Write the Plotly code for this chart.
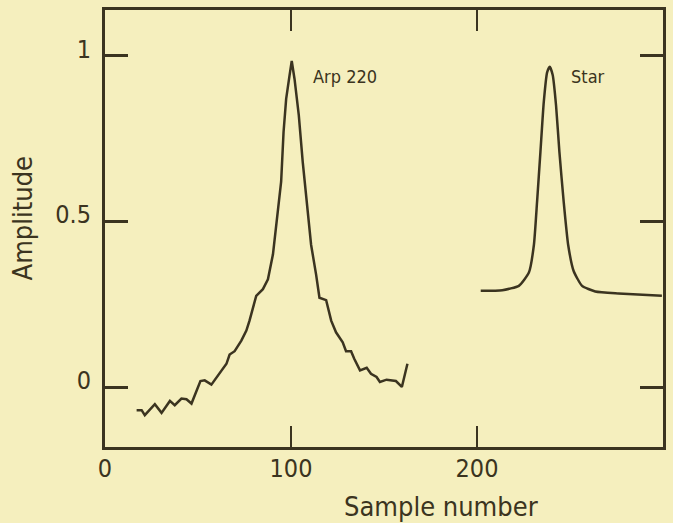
import plotly.graph_objects as go

# Arp 220 profile (sample number, amplitude)
arp_x = [17.0, 19.7, 21.4, 26.8, 30.4, 34.9, 37.5, 41.1, 43.8, 46.5, 51.3, 53.6, 57.2,
         60.8, 65.3, 67.0, 69.7, 73.3, 76.0, 77.7, 81.3, 84.9, 87.6, 90.3, 92.9, 94.7,
         96.0, 97.4, 99.2, 100.4, 101.9, 104.2, 106.3, 109.0, 110.8, 113.5, 115.3, 118.9,
         121.6, 124.2, 127.8, 129.6, 132.3, 134.0, 137.1, 140.7, 143.0, 146.0, 147.8,
         151.4, 156.4, 159.6, 162.6]
arp_y = [-0.069, -0.069, -0.084, -0.051, -0.077, -0.041, -0.054, -0.034, -0.036, -0.049,
         0.019, 0.021, 0.008, 0.036, 0.071, 0.099, 0.109, 0.141, 0.171, 0.201, 0.276,
         0.296, 0.326, 0.401, 0.52, 0.62, 0.77, 0.87, 0.94, 0.984, 0.93, 0.82, 0.68,
         0.54, 0.43, 0.34, 0.27, 0.263, 0.201, 0.166, 0.136, 0.109, 0.109, 0.086, 0.051,
         0.059, 0.041, 0.031, 0.016, 0.023, 0.019, 0.001, 0.071]

# Star profile
star_x = [202.0, 213.6, 222.5, 227.9, 230.6, 232.3, 234.1, 235.9, 237.7, 239.1, 240.7,
          242.5, 244.3, 246.6, 249.0, 252.0, 256.5, 263.6, 276.1, 299.4]
star_y = [0.291, 0.293, 0.306, 0.346, 0.43, 0.56, 0.71, 0.86, 0.95, 0.967, 0.942, 0.85,
          0.71, 0.56, 0.43, 0.35, 0.306, 0.289, 0.283, 0.276]

x_ticks = [0, 100, 200]
x_tick_labels = ["0", "100", "200"]
y_ticks = [0, 0.5, 1]
y_tick_labels = ["0", "0.5", "1"]

labels = ["Arp 220", "Star"]
label_x = [111, 249.3]
label_y = [0.937, 0.937]

INK = "#3b3420"
BG = "#f5efbe"
FONT = "DejaVu Sans Condensed"

fig = go.Figure()
fig.add_trace(go.Scatter(x=arp_x, y=arp_y, mode="lines",
                         line=dict(color=INK, width=2.5), showlegend=False))
fig.add_trace(go.Scatter(x=star_x, y=star_y, mode="lines",
                         line=dict(color=INK, width=2.5, shape="spline", smoothing=0.5),
                         showlegend=False))

for t, lx, ly in zip(labels, label_x, label_y):
    fig.add_annotation(x=lx, y=ly, text=t, showarrow=False, xanchor="left",
                       yanchor="middle", font=dict(family=FONT, size=18, color=INK))

fig.add_annotation(xref="paper", yref="paper", x=0.602, y=-0.1367, text="Sample number",
                   showarrow=False, xanchor="center", yanchor="middle",
                   font=dict(family=FONT, size=27, color=INK))
fig.add_annotation(xref="paper", yref="paper", x=-0.148, y=0.524, text="Amplitude",
                   showarrow=False, xanchor="center", yanchor="middle", textangle=-90,
                   font=dict(family=FONT, size=27, color=INK))

fig.update_layout(
    width=673, height=523,
    margin=dict(l=105, r=7, t=8, b=76),
    paper_bgcolor=BG, plot_bgcolor=BG,
    font=dict(family=FONT, size=25, color=INK),
)
fig.update_xaxes(range=[0, 300], tickvals=x_ticks, ticktext=x_tick_labels,
                 ticks="inside", ticklen=21, tickwidth=2, tickcolor=INK,
                 showline=True, linewidth=3, linecolor=INK, mirror="ticks",
                 showgrid=False, zeroline=False, ticklabelstandoff=-3)
fig.update_yaxes(range=[-0.18, 1.138], tickvals=y_ticks, ticktext=y_tick_labels,
                 ticks="inside", ticklen=23, tickwidth=3, tickcolor=INK,
                 showline=True, linewidth=3, linecolor=INK, mirror="ticks",
                 showgrid=False, zeroline=False, ticklabelshift=-7, ticklabelstandoff=6)

fig.write_html("out.html", config={"displayModeBar": False},
               post_script="document.body.style.margin='0';document.body.style.background='%s';" % BG)
